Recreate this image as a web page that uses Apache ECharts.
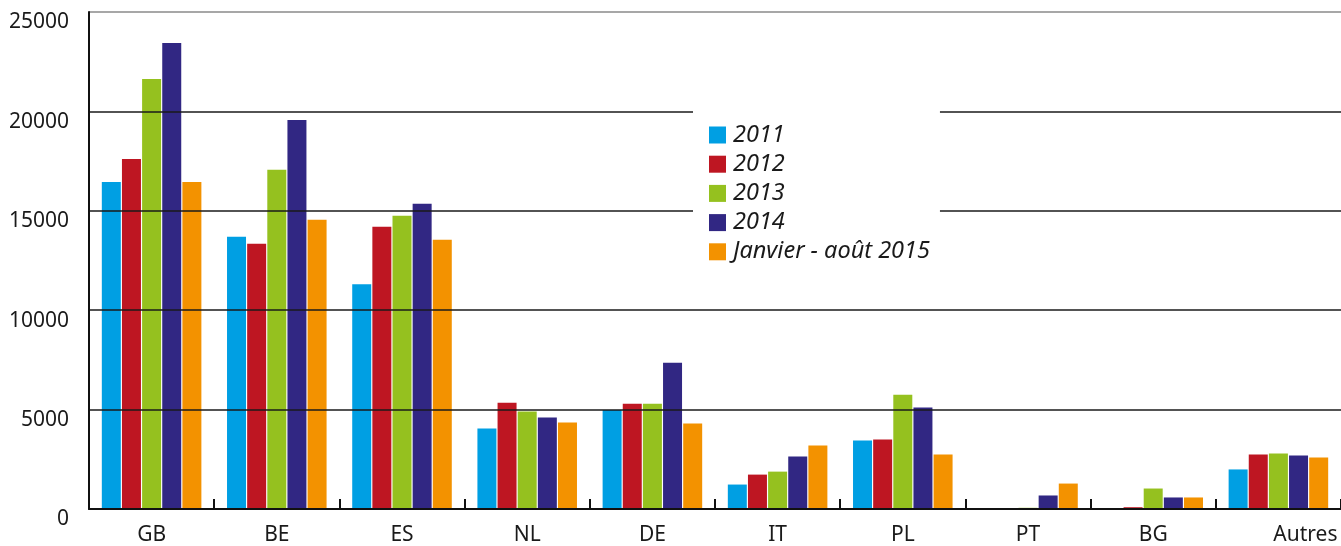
<!DOCTYPE html>
<html>
<head>
<meta charset="utf-8">
<script src="https://cdn.jsdelivr.net/npm/echarts@6/dist/echarts.min.js"></script>
<style>
  html, body { margin: 0; padding: 0; background: #fff; }
  #main { width: 1341px; height: 546px; }
</style>
</head>
<body>
<div id="main"></div>
<script>
// pays
const categories = ["GB", "BE", "ES", "NL", "DE", "IT", "PL", "PT", "BG", "Autres"];

// valeurs
const v2011 = [16450, 13700, 11300, 4050, 4980, 1230, 3440, 0, 0, 1990];
const v2012 = [17600, 13340, 14200, 5350, 5300, 1730, 3490, 0, 90, 2740];
const v2013 = [21630, 17060, 14750, 4900, 5300, 1880, 5750, 60, 1030, 2790];
const v2014 = [23440, 19570, 15350, 4600, 7360, 2640, 5100, 680, 580, 2690];
const v2015 = [16450, 14550, 13540, 4350, 4300, 3190, 2740, 1280, 580, 2590];

const seriesNames = ["2011", "2012", "2013", "2014", "Janvier - août 2015"];
const seriesColors = ["#009FE3", "#BE1622", "#95C11F", "#312783", "#F39200"];
const seriesValues = [v2011, v2012, v2013, v2014, v2015];

const chart = echarts.init(document.getElementById("main"));

const option = {
  animation: false,
  textStyle: { fontFamily: "Noto Sans" },
  grid: { left: 89, right: -5, top: 12, bottom: 36.5 },
  legend: {
    orient: "vertical",
    left: 693,
    top: 105,
    padding: [18.5, 10, 10, 16],
    backgroundColor: "#fff",
    itemWidth: 17,
    itemHeight: 17,
    itemGap: 6.2,
    icon: "rect",
    textStyle: {
      fontFamily: "Noto Sans",
      fontStyle: "italic",
      fontSize: 23.5,
      lineHeight: 22,
      color: "#1a1a1a",
      padding: [0, 0, 0, 2]
    },
    data: seriesNames
  },
  xAxis: {
    type: "category",
    data: categories,
    z: 3,
    axisLine: { lineStyle: { color: "#111", width: 2 } },
    axisTick: { show: true, interval: 0, inside: true, length: 10, lineStyle: { color: "#111", width: 2 } },
    axisLabel: {
      interval: 0,
      color: "#1a1a1a",
      fontSize: 21,
      margin: 16,
      verticalAlign: "top",
      formatter: function (v) {
        return v === "Autres" ? "{shift|" + v + "}" : v;
      },
      rich: {
        shift: { fontSize: 21, color: "#1a1a1a", padding: [0, 0, 0, 54] }
      }
    }
  },
  yAxis: {
    type: "value",
    min: 0,
    max: 25000,
    interval: 5000,
    z: 3,
    axisLine: { show: true, lineStyle: { color: "#111", width: 2 } },
    axisTick: { show: false },
    axisLabel: {
      color: "#1a1a1a",
      fontSize: 21,
      margin: 20,
      verticalAlign: "top",
      formatter: function (v) { return String(v); }
    },
    splitLine: {
      lineStyle: {
        color: ["#1a1a1a", "#1a1a1a", "#1a1a1a", "#1a1a1a", "#1a1a1a", "#8a8a8a"],
        width: 1.5
      }
    }
  },
  series: seriesValues.map(function (vals, i) {
    return {
      name: seriesNames[i],
      type: "bar",
      z: 1,
      barWidth: 19,
      barGap: "6%",
      itemStyle: { color: seriesColors[i] },
      data: vals
    };
  })
};

option && chart.setOption(option);
</script>
</body>
</html>
